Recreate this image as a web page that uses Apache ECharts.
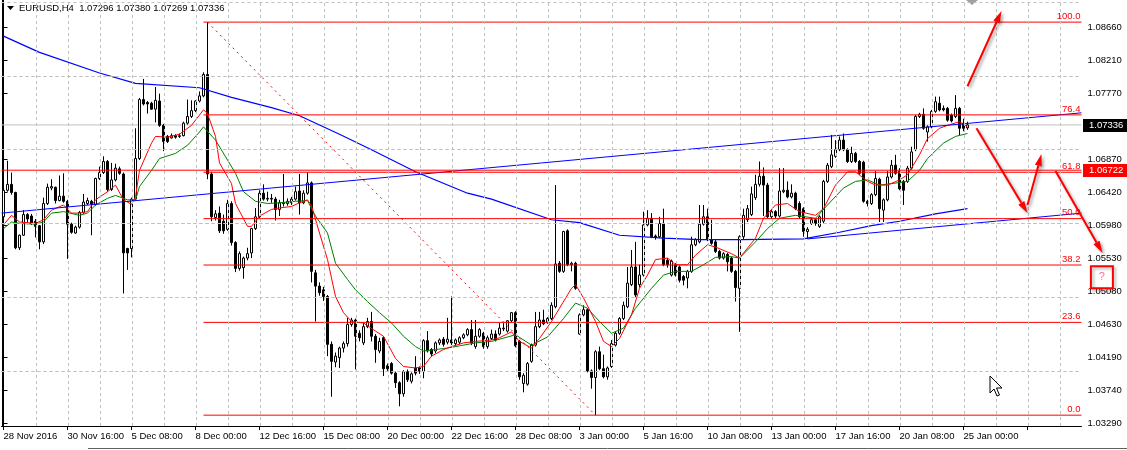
<!DOCTYPE html>
<html><head><meta charset="utf-8">
<script src="https://cdn.jsdelivr.net/npm/echarts@6/dist/echarts.min.js"></script>
<style>html,body{margin:0;padding:0;background:#fff}#c{width:1127px;height:450px}</style>
</head><body><div id="c"></div>
<script>
// ---------------- DATA ----------------
const symbolTitle = 'EURUSD,H4  1.07296 1.07380 1.07269 1.07336';
const timeLabels = ['28 Nov 2016','30 Nov 16:00','5 Dec 08:00','8 Dec 00:00','12 Dec 16:00','15 Dec 08:00','20 Dec 00:00','22 Dec 16:00','28 Dec 08:00','3 Jan 00:00','5 Jan 16:00','10 Jan 08:00','13 Jan 00:00','17 Jan 16:00','20 Jan 08:00','25 Jan 00:00'];
const barsPerLabel = 16;
const totalSlots = 270;

const open = [
1.0609,1.0645,1.0653,1.0642,1.0567,1.0584,1.0612,1.0610,1.0603,1.0597,
1.0575,1.0627,1.0648,1.0649,1.0631,1.0637,1.0630,1.0599,1.0587,1.0595,
1.0615,1.0627,1.0630,1.0626,1.0661,1.0669,1.0684,1.0646,1.0659,1.0674,
1.0667,1.0566,1.0566,1.0633,1.0688,1.0768,1.0764,1.0763,1.0755,1.0766,
1.0733,1.0718,1.0716,1.0719,1.0718,1.0719,1.0736,1.0745,1.0753,1.0766,
1.0773,1.0802,1.0667,1.0608,1.0614,1.0603,1.0592,1.0627,1.0574,1.0539,
1.0540,1.0553,1.0560,1.0593,1.0609,1.0641,1.0633,1.0634,1.0633,1.0619,
1.0628,1.0627,1.0628,1.0633,1.0644,1.0628,1.0641,1.0655,1.0533,1.0515,
1.0510,1.0501,1.0436,1.0412,1.0418,1.0431,1.0437,1.0463,1.0469,1.0451,
1.0438,1.0460,1.0467,1.0447,1.0427,1.0445,1.0407,1.0410,1.0397,1.0384,
1.0369,1.0399,1.0386,1.0404,1.0404,1.0399,1.0441,1.0429,1.0427,1.0438,
1.0443,1.0439,1.0442,1.0437,1.0439,1.0445,1.0449,1.0456,1.0433,1.0447,
1.0451,1.0433,1.0444,1.0450,1.0450,1.0457,1.0454,1.0468,1.0479,1.0440,
1.0383,1.0382,1.0413,1.0435,1.0460,1.0469,1.0466,1.0471,1.0487,1.0546,
1.0535,1.0590,1.0544,1.0546,1.0450,1.0476,1.0483,1.0400,1.0391,1.0426,
1.0403,1.0392,1.0406,1.0435,1.0451,1.0471,1.0487,1.0517,1.0541,1.0517,
1.0530,1.0598,1.0607,1.0583,1.0582,1.0600,1.0550,1.0530,1.0544,1.0541,
1.0528,1.0526,1.0535,1.0571,1.0575,1.0599,1.0609,1.0578,1.0575,1.0562,
1.0553,1.0558,1.0553,1.0535,1.0512,1.0582,1.0605,1.0612,1.0635,1.0653,
1.0664,1.0652,1.0609,1.0616,1.0610,1.0643,1.0645,1.0636,1.0641,1.0627,
1.0620,1.0589,1.0600,1.0605,1.0596,1.0603,1.0657,1.0677,1.0691,1.0700,
1.0713,1.0700,1.0684,1.0695,1.0684,1.0683,1.0630,1.0627,1.0639,1.0660,
1.0618,1.0632,1.0663,1.0679,1.0671,1.0657,1.0657,1.0675,1.0700,1.0745,
1.0748,1.0724,1.0731,1.0752,1.0763,1.0756,1.0756,1.0747,1.0745,1.0756,
1.0736,1.07296];
const high = [
1.0648,1.0685,1.0669,1.0643,1.0585,1.0618,1.0614,1.0613,1.0606,1.0598,
1.0635,1.0654,1.0660,1.0650,1.0665,1.0668,1.0632,1.0601,1.0597,1.0617,
1.0640,1.0635,1.0632,1.0662,1.0677,1.0691,1.0686,1.0682,1.0681,1.0677,
1.0669,1.0567,1.0635,1.0729,1.0770,1.0796,1.0766,1.0765,1.0785,1.0776,
1.0735,1.0720,1.0722,1.0721,1.0722,1.0738,1.0768,1.0767,1.0767,1.0779,
1.0805,1.0873,1.0670,1.0618,1.0623,1.0612,1.0632,1.0630,1.0576,1.0562,
1.0555,1.0567,1.0594,1.0621,1.0645,1.0653,1.0643,1.0640,1.0636,1.0632,
1.0667,1.0634,1.0636,1.0650,1.0667,1.0645,1.0669,1.0657,1.0537,1.0520,
1.0514,1.0503,1.0440,1.0425,1.0433,1.0440,1.0472,1.0472,1.0471,1.0455,
1.0465,1.0472,1.0480,1.0450,1.0445,1.0447,1.0410,1.0412,1.0399,1.0386,
1.0401,1.0402,1.0398,1.0420,1.0406,1.0443,1.0454,1.0431,1.0440,1.0444,
1.0446,1.0472,1.0501,1.0444,1.0447,1.0451,1.0458,1.0469,1.0469,1.0458,
1.0453,1.0448,1.0456,1.0455,1.0465,1.0465,1.0469,1.0480,1.0481,1.0442,
1.0397,1.0412,1.0437,1.0480,1.0480,1.0483,1.0473,1.0493,1.0652,1.0549,
1.0590,1.0592,1.0548,1.0548,1.0478,1.0489,1.0485,1.0402,1.0428,1.0433,
1.0422,1.0406,1.0442,1.0453,1.0473,1.0494,1.0541,1.0564,1.0575,1.0544,
1.0616,1.0618,1.0614,1.0585,1.0609,1.0620,1.0553,1.0551,1.0546,1.0543,
1.0530,1.0537,1.0582,1.0580,1.0625,1.0625,1.0620,1.0605,1.0578,1.0564,
1.0561,1.0560,1.0555,1.0537,1.0584,1.0620,1.0625,1.0650,1.0666,1.0684,
1.0676,1.0655,1.0618,1.0618,1.0675,1.0675,1.0657,1.0653,1.0643,1.0630,
1.0622,1.0595,1.0608,1.0607,1.0611,1.0659,1.0682,1.0720,1.0713,1.0718,
1.0722,1.0702,1.0704,1.0697,1.0686,1.0685,1.0632,1.0641,1.0671,1.0662,
1.0634,1.0671,1.0686,1.0693,1.0675,1.0659,1.0678,1.0704,1.0747,1.0750,
1.0756,1.0733,1.0754,1.0772,1.0772,1.0760,1.0758,1.0749,1.0774,1.0758,
1.0742,1.07380];
const low = [
1.0605,1.0643,1.0639,1.0565,1.0564,1.0583,1.0599,1.0598,1.0581,1.0565,
1.0572,1.0625,1.0645,1.0627,1.0630,1.0628,1.0552,1.0586,1.0586,1.0593,
1.0613,1.0625,1.0584,1.0624,1.0659,1.0667,1.0643,1.0644,1.0657,1.0666,
1.0505,1.0537,1.0554,1.0631,1.0686,1.0760,1.0749,1.0754,1.0737,1.0731,
1.0698,1.0709,1.0715,1.0715,1.0716,1.0718,1.0734,1.0743,1.0751,1.0764,
1.0771,1.0660,1.0603,1.0604,1.0587,1.0586,1.0590,1.0570,1.0534,1.0536,
1.0525,1.0550,1.0553,1.0591,1.0607,1.0631,1.0630,1.0628,1.0604,1.0610,
1.0623,1.0624,1.0625,1.0631,1.0612,1.0626,1.0639,1.0520,1.0467,1.0502,
1.0495,1.0420,1.0365,1.0405,1.0404,1.0425,1.0433,1.0460,1.0402,1.0440,
1.0435,1.0458,1.0440,1.0411,1.0424,1.0393,1.0400,1.0395,1.0377,1.0352,
1.0365,1.0385,1.0383,1.0394,1.0396,1.0390,1.0425,1.0420,1.0424,1.0435,
1.0433,1.0436,1.0435,1.0434,1.0436,1.0443,1.0447,1.0435,1.0430,1.0445,
1.0430,1.0430,1.0442,1.0440,1.0448,1.0454,1.0452,1.0466,1.0432,1.0388,
1.0371,1.0380,1.0411,1.0433,1.0458,1.0462,1.0464,1.0469,1.0485,1.0533,
1.0533,1.0542,1.0535,1.0510,1.0449,1.0474,1.0398,1.0376,1.0340,1.0401,
1.0390,1.0388,1.0404,1.0433,1.0449,1.0469,1.0485,1.0515,1.0500,1.0513,
1.0528,1.0596,1.0580,1.0578,1.0580,1.0542,1.0540,1.0528,1.0528,1.0520,
1.0516,1.0512,1.0533,1.0569,1.0573,1.0597,1.0576,1.0571,1.0560,1.0551,
1.0551,1.0535,1.0533,1.0494,1.0453,1.0578,1.0602,1.0610,1.0632,1.0650,
1.0610,1.0607,1.0606,1.0607,1.0608,1.0641,1.0634,1.0634,1.0618,1.0606,
1.0582,1.0579,1.0598,1.0597,1.0594,1.0600,1.0655,1.0675,1.0689,1.0698,
1.0698,1.0682,1.0682,1.0682,1.0666,1.0628,1.0623,1.0625,1.0637,1.0602,
1.0602,1.0630,1.0661,1.0666,1.0645,1.0625,1.0655,1.0673,1.0698,1.0743,
1.0727,1.0711,1.0729,1.0750,1.0752,1.0752,1.0738,1.0737,1.0743,1.0720,
1.0725,1.07269];
const close = [
1.0645,1.0653,1.0642,1.0567,1.0584,1.0612,1.0606,1.0600,1.0596,1.0575,
1.0627,1.0649,1.0650,1.0631,1.0637,1.0630,1.0599,1.0588,1.0595,1.0615,
1.0629,1.0631,1.0626,1.0661,1.0669,1.0684,1.0646,1.0659,1.0675,1.0668,
1.0560,1.0560,1.0633,1.0688,1.0768,1.0762,1.0762,1.0755,1.0767,1.0733,
1.0711,1.0711,1.0719,1.0717,1.0719,1.0736,1.0745,1.0753,1.0766,1.0773,
1.0802,1.0667,1.0609,1.0613,1.0590,1.0590,1.0627,1.0574,1.0539,1.0559,
1.0553,1.0559,1.0593,1.0609,1.0641,1.0633,1.0634,1.0633,1.0619,1.0628,
1.0627,1.0630,1.0633,1.0643,1.0628,1.0641,1.0655,1.0535,1.0515,1.0506,
1.0501,1.0436,1.0413,1.0420,1.0431,1.0437,1.0463,1.0469,1.0447,1.0445,
1.0460,1.0467,1.0447,1.0429,1.0440,1.0403,1.0403,1.0397,1.0384,1.0369,
1.0399,1.0388,1.0396,1.0397,1.0399,1.0441,1.0427,1.0423,1.0438,1.0442,
1.0436,1.0443,1.0438,1.0442,1.0445,1.0449,1.0456,1.0438,1.0447,1.0456,
1.0433,1.0445,1.0450,1.0442,1.0458,1.0458,1.0468,1.0479,1.0434,1.0392,
1.0394,1.0410,1.0435,1.0460,1.0469,1.0464,1.0471,1.0489,1.0545,1.0535,
1.0589,1.0544,1.0546,1.0512,1.0476,1.0483,1.0400,1.0391,1.0426,1.0403,
1.0392,1.0404,1.0437,1.0451,1.0471,1.0489,1.0519,1.0541,1.0503,1.0530,
1.0598,1.0607,1.0582,1.0581,1.0600,1.0544,1.0544,1.0549,1.0530,1.0523,
1.0523,1.0535,1.0571,1.0578,1.0599,1.0609,1.0578,1.0573,1.0562,1.0553,
1.0559,1.0548,1.0535,1.0513,1.0582,1.0611,1.0620,1.0640,1.0653,1.0664,
1.0652,1.0609,1.0616,1.0610,1.0644,1.0645,1.0636,1.0641,1.0620,1.0609,
1.0589,1.0592,1.0605,1.0600,1.0609,1.0657,1.0679,1.0693,1.0700,1.0713,
1.0700,1.0684,1.0695,1.0684,1.0668,1.0630,1.0627,1.0639,1.0661,1.0620,
1.0632,1.0663,1.0679,1.0668,1.0647,1.0645,1.0675,1.0697,1.0745,1.0748,
1.0729,1.0731,1.0752,1.0765,1.0754,1.0754,1.0740,1.0739,1.0756,1.0729,
1.0729,1.07336];

// moving averages: [bar index, price]
const maRed = [[0,1.0598],[2,1.0611],[4,1.0602],[8,1.0600],[10,1.0605],[12,1.0618],[15,1.0625],[17,1.0614],[19,1.0614],[21,1.0616],[23,1.0632],[26,1.0643],[28,1.0652],[30,1.0632],[32,1.0626],[33,1.0636],[34,1.0672],[37,1.0709],[38,1.0718],[41,1.0717],[44,1.0721],[47,1.0733],[49,1.0747],[50,1.0754],[51,1.0749],[53,1.0718],[54,1.0682],[57,1.0654],[58,1.0627],[61,1.0596],[62,1.0596],[64,1.0610],[67,1.0619],[69,1.0621],[72,1.0623],[74,1.0628],[76,1.0632],[77,1.0624],[79,1.0587],[81,1.0551],[83,1.0501],[85,1.0479],[87,1.0467],[90,1.0465],[93,1.0454],[95,1.0447],[98,1.0417],[100,1.0406],[103,1.0404],[105,1.0406],[107,1.0420],[110,1.0429],[112,1.0433],[115,1.0438],[118,1.0440],[122,1.0442],[124,1.0445],[127,1.0453],[129,1.0440],[132,1.0431],[134,1.0444],[137,1.0467],[139,1.0485],[142,1.0512],[143,1.0517],[145,1.0499],[148,1.0467],[150,1.0440],[152,1.0433],[154,1.0444],[157,1.0476],[159,1.0512],[161,1.0530],[163,1.0551],[166,1.0553],[168,1.0544],[171,1.0544],[173,1.0557],[176,1.0571],[178,1.0568],[182,1.0559],[184,1.0553],[188,1.0580],[190,1.0607],[193,1.0625],[196,1.0627],[199,1.0616],[203,1.0611],[205,1.0620],[208,1.0652],[211,1.0670],[213,1.0670],[216,1.0657],[218,1.0652],[221,1.0652],[224,1.0659],[226,1.0666],[229,1.0693],[231,1.0715],[234,1.0729],[236,1.0733],[239,1.0738],[241,1.0731]];
const maGreen = [[0,1.0593],[2,1.0602],[4,1.0600],[8,1.0599],[10,1.0602],[12,1.0614],[15,1.0616],[19,1.0611],[21,1.0614],[23,1.0625],[26,1.0634],[28,1.0638],[31,1.0632],[33,1.0632],[34,1.0650],[37,1.0672],[39,1.0688],[43,1.0695],[46,1.0706],[49,1.0724],[50,1.0731],[53,1.0713],[56,1.0686],[58,1.0668],[60,1.0643],[63,1.0630],[66,1.0627],[69,1.0628],[73,1.0630],[76,1.0631],[78,1.0610],[81,1.0587],[83,1.0546],[86,1.0524],[88,1.0510],[91,1.0494],[94,1.0479],[97,1.0465],[100,1.0447],[103,1.0433],[105,1.0427],[108,1.0429],[111,1.0431],[114,1.0434],[118,1.0438],[122,1.0440],[128,1.0449],[132,1.0435],[136,1.0446],[140,1.0471],[143,1.0492],[146,1.0485],[149,1.0467],[152,1.0451],[155,1.0458],[158,1.0485],[162,1.0512],[165,1.0530],[168,1.0535],[172,1.0535],[175,1.0544],[178,1.0554],[182,1.0555],[184,1.0553],[188,1.0575],[191,1.0593],[194,1.0607],[198,1.0611],[203,1.0607],[206,1.0625],[210,1.0648],[213,1.0657],[216,1.0659],[219,1.0652],[222,1.0654],[226,1.0657],[229,1.0672],[231,1.0688],[235,1.0709],[238,1.0718],[241,1.0722]];
const maBlue = [[0,1.0854],[9,1.0832],[24,1.0804],[33,1.0790],[49,1.0784],[57,1.0771],[67,1.0757],[74,1.0746],[84,1.0721],[92,1.0700],[103,1.0670],[116,1.0641],[122,1.0633],[137,1.0605],[144,1.0601],[154,1.0584],[165,1.0580],[174,1.0578],[184,1.0578],[200,1.0579],[209,1.0588],[217,1.0597],[224,1.0603],[233,1.0613],[241,1.0620]];

const yTickValues = [1.08660,1.08210,1.07770,1.06870,1.06420,1.05980,1.05530,1.05080,1.04630,1.04190,1.03740,1.03290];
const yGridValues = [1.08660,1.08210,1.07770,1.07330,1.06870,1.06420,1.05980,1.05530,1.05080,1.04630,1.04190,1.03740,1.03290];
const yMin = 1.03253, yMax = 1.09030;

const bidPrice = 1.07336;
const levelPrice = 1.06722;
const fibHigh = 1.0873, fibLow = 1.0340;
const fibHighIdx = 51, fibLowIdx = 148, fibStartIdx = 50;
const fibLevels = [0.0, 23.6, 38.2, 50.0, 61.8, 76.4, 100.0];
const trendUpper = [[-0.5,1.0614],[269.5,1.0750]];
const trendLower = [[201,1.0579],[269.5,1.0614]];
const arrows = [
  [[241,1.0786],[249.5,1.0888]],
  [[243.25,1.0729],[256,1.0614]],
  [[256,1.0625],[259.5,1.0694]],
  [[263,1.0671],[274.75,1.0560]]
];
const questionBox = [274.6, 1.0527];

// ---------------- BUILD ----------------
const cats = [];
for (let i = 0; i < totalSlots; i++) {
  cats.push(i % barsPerLabel === 0 && timeLabels[i / barsPerLabel] ? timeLabels[i / barsPerLabel] : '');
}
const ohlc = open.map((o, i) => [o, close[i], low[i], high[i]]);
const FONT = 'Liberation Sans';
const FS = 9.5;
const RED = '#ff0000';

const vGrid = [];
for (let i = 8; i < totalSlots; i += 8) vGrid.push({xAxis: i + 0.25});
const hGrid = yGridValues.map(v => ({yAxis: v}));

const fibValue = l => fibLow + (fibHigh - fibLow) * l / 100;
const fibSeries = fibLevels.map(l => ({
  type: 'line', xAxisIndex: 1, showSymbol: false, silent: true, z: 4,
  lineStyle: {color: RED, width: 1, type: 'solid'},
  data: [[fibStartIdx, fibValue(l)], [269.5, fibValue(l)]]
}));

const full = v => [[-0.5, v], [269.5, v]];

const option = {
  animation: false,
  backgroundColor: '#ffffff',
  grid: {left: 1.5, top: 0, width: 1080, height: 426, show: false},
  xAxis: [{
    type: 'category', data: cats, boundaryGap: true,
    axisLine: {show: true, lineStyle: {color: '#000', width: 1}},
    axisTick: {show: true, interval: barsPerLabel - 1, alignWithLabel: true, length: 4, lineStyle: {color: '#000'}},
    axisLabel: {interval: barsPerLabel - 1, align: 'left', color: '#000', fontSize: FS, fontFamily: FONT, margin: 5},
    splitLine: {show: false}
  }, {
    type: 'value', min: -0.5, max: 269.5, show: false
  }],
  yAxis: {
    type: 'value', position: 'right', min: yMin, max: yMax, scale: true,
    axisLine: {show: true, lineStyle: {color: '#000', width: 1}},
    axisTick: {show: true, customValues: yTickValues, length: 4, lineStyle: {color: '#000'}},
    axisLabel: {customValues: yTickValues, formatter: v => v.toFixed(5), color: '#000', fontSize: FS, fontFamily: FONT, margin: 6},
    splitLine: {show: false}
  },
  series: [
    { // grid
      type: 'line', xAxisIndex: 1, data: [[-0.5, yMin]], showSymbol: false, silent: true, z: 1,
      lineStyle: {opacity: 0},
      markLine: {silent: true, symbol: 'none', label: {show: false}, animation: false,
        lineStyle: {color: '#c0c0c0', type: [3, 3], width: 1},
        data: vGrid.concat(hGrid)}
    },
    { // bid line
      type: 'line', xAxisIndex: 1, data: full(bidPrice), showSymbol: false, silent: true, z: 2,
      lineStyle: {color: '#c0c0c0', width: 1}
    },
    {
      type: 'candlestick', xAxisIndex: 0, data: ohlc, barWidth: 2, z: 3, silent: true,
      itemStyle: {color: '#ffffff', color0: '#000000', borderColor: '#000000', borderColor0: '#000000', borderWidth: 1}
    },
    {type: 'line', xAxisIndex: 1, data: maBlue, showSymbol: false, silent: true, z: 4, lineStyle: {color: '#0000ff', width: 1.2}},
    {type: 'line', xAxisIndex: 1, data: maGreen, showSymbol: false, silent: true, z: 4, lineStyle: {color: '#008000', width: 1}},
    {type: 'line', xAxisIndex: 1, data: maRed, showSymbol: false, silent: true, z: 4, lineStyle: {color: RED, width: 1}},
    {type: 'line', xAxisIndex: 1, data: trendUpper, showSymbol: false, silent: true, z: 4, lineStyle: {color: '#0000ff', width: 1}},
    {type: 'line', xAxisIndex: 1, data: trendLower, showSymbol: false, silent: true, z: 4, lineStyle: {color: '#0000ff', width: 1}},
    {type: 'line', xAxisIndex: 1, data: full(levelPrice), showSymbol: false, silent: true, z: 4, lineStyle: {color: RED, width: 1}},
    { // fibonacci trend (dotted)
      type: 'line', xAxisIndex: 1, data: [[fibHighIdx, fibHigh], [fibLowIdx, fibLow]], showSymbol: false, silent: true, z: 4,
      lineStyle: {color: RED, width: 1, type: [2, 4]}
    }
  ].concat(fibSeries)
};

const chart = echarts.init(document.getElementById('c'));
chart.setOption(option);

const px = p => chart.convertToPixel({xAxisIndex: 1, yAxisIndex: 0}, p);
const g = [];
// frame left
g.push({type: 'line', shape: {x1: 2.5, y1: 0, x2: 2.5, y2: 426}, style: {stroke: '#000', lineWidth: 1}});
// title
g.push({type: 'polygon', shape: {points: [[7, 6], [14, 6], [10.5, 10]]}, style: {fill: '#000'}});
g.push({type: 'text', x: 19, y: 3, style: {text: symbolTitle, fill: '#000', fontSize: FS, fontFamily: FONT}});
// shift marker
g.push({type: 'polygon', shape: {points: [[966, 0], [978, 0], [972, 5]]}, style: {fill: '#a0a0a0'}});
// fib level labels
fibLevels.forEach(l => {
  const p = px([269.5, fibValue(l)]);
  g.push({type: 'text', x: p[0] - 1, y: p[1] - 1, style: {text: l.toFixed(1), fill: RED, fontSize: FS, fontFamily: FONT, align: 'right', verticalAlign: 'bottom'}, z: 9});
});
// price boxes
[[bidPrice, '#000000'], [levelPrice, RED]].forEach(([v, c]) => {
  const y = px([0, v])[1];
  g.push({type: 'rect', shape: {x: 1083, y: Math.round(y) - 6, width: 44, height: 13}, style: {fill: c}, z: 10});
  g.push({type: 'text', x: 1089, y: Math.round(y) + 0.5, style: {text: v.toFixed(5), fill: '#fff', fontSize: FS, fontFamily: FONT, verticalAlign: 'middle'}, z: 11});
});
// arrows
arrows.forEach(a => {
  const p0 = px(a[0]), p1 = px(a[1]);
  const dx = p1[0] - p0[0], dy = p1[1] - p0[1], L = Math.hypot(dx, dy), ux = dx / L, uy = dy / L;
  const hl = 12, hw = 3.5;
  const bx = p1[0] - ux * hl, by = p1[1] - uy * hl;
  const sh = {shadowBlur: 3, shadowColor: 'rgba(0,0,0,0.35)', shadowOffsetX: 2, shadowOffsetY: 2};
  g.push({type: 'line', shape: {x1: p0[0], y1: p0[1], x2: bx, y2: by}, style: Object.assign({stroke: RED, lineWidth: 2}, sh), z: 12});
  g.push({type: 'polygon', shape: {points: [[p1[0], p1[1]], [bx - uy * hw, by + ux * hw], [bx + uy * hw, by - ux * hw]]}, style: Object.assign({fill: RED}, sh), z: 12});
});
// question box
const qb = px(questionBox);
g.push({type: 'rect', shape: {x: qb[0] - 11, y: qb[1] - 11, width: 22, height: 22}, style: {fill: 'rgba(0,0,0,0)', stroke: RED, lineWidth: 2, shadowBlur: 3, shadowColor: 'rgba(0,0,0,0.3)', shadowOffsetX: 2, shadowOffsetY: 2}, z: 12});
g.push({type: 'text', x: qb[0], y: qb[1], style: {text: '?', fill: '#ff6f8f', fontSize: 11, fontFamily: FONT, align: 'center', verticalAlign: 'middle'}, z: 12});
// mouse cursor
g.push({type: 'polygon', shape: {points: [[990, 376], [990, 393], [994, 389], [997, 396], [999.5, 395], [996.5, 388], [1002, 388]]}, style: {fill: '#fff', stroke: '#000', lineWidth: 1}, z: 13});
// bottom strip
g.push({type: 'line', shape: {x1: 88, y1: 448.5, x2: 1127, y2: 448.5}, style: {stroke: '#606060', lineWidth: 1}});
chart.setOption({graphic: g});
</script>
</body></html>
